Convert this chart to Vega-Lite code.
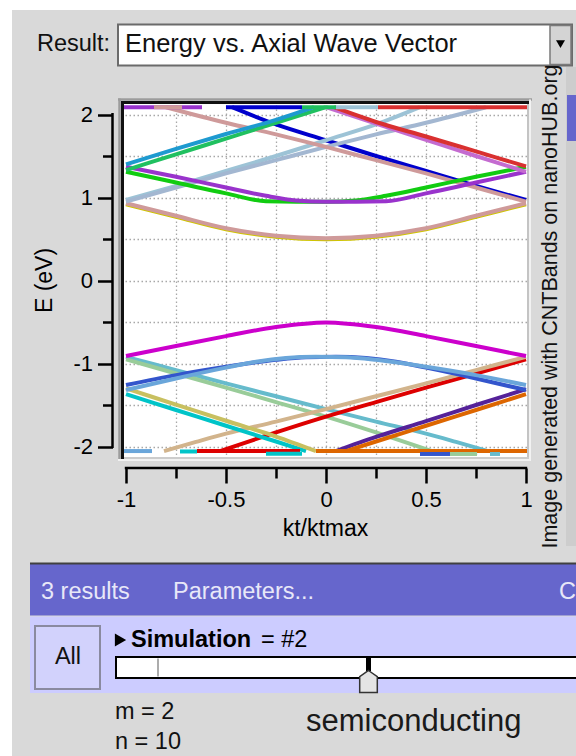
{
"$schema": "https://vega.github.io/schema/vega-lite/v6.json",
"width": 408, "height": 358,
"autosize": {"type": "none"},
"padding": {"left": 121, "top": 101, "right": 47, "bottom": 297},
"background": "#d9d9d9",
"config": {"view": {"fill": "#ffffff", "stroke": null}, "font": "Liberation Sans"},
"data": {"values": [{}]},
"datasets": {"bands": [
{"b":"b01","k":-1,"E":0.918},{"b":"b01","k":-0.75,"E":0.768},{"b":"b01","k":-0.5,"E":0.618},{"b":"b01","k":-0.25,"E":0.528},{"b":"b01","k":0,"E":0.498},{"b":"b01","k":0.25,"E":0.528},{"b":"b01","k":0.5,"E":0.618},{"b":"b01","k":0.75,"E":0.768},{"b":"b01","k":1,"E":0.918},
{"b":"b02","k":-1,"E":0.93},{"b":"b02","k":-0.75,"E":0.78},{"b":"b02","k":-0.5,"E":0.63},{"b":"b02","k":-0.25,"E":0.54},{"b":"b02","k":0,"E":0.51},{"b":"b02","k":0.25,"E":0.54},{"b":"b02","k":0.5,"E":0.63},{"b":"b02","k":0.75,"E":0.78},{"b":"b02","k":1,"E":0.93},
{"b":"b03","k":-0.47,"E":2.088},{"b":"b03","k":-0.25,"E":1.88},{"b":"b03","k":0,"E":1.69},{"b":"b03","k":0.25,"E":1.5},{"b":"b03","k":0.5,"E":1.32},{"b":"b03","k":0.75,"E":1.14},{"b":"b03","k":1,"E":0.97},
{"b":"b04","k":-1,"E":0.97},{"b":"b04","k":-0.75,"E":1.14},{"b":"b04","k":-0.5,"E":1.32},{"b":"b04","k":-0.25,"E":1.5},{"b":"b04","k":0,"E":1.69},{"b":"b04","k":0.25,"E":1.88},{"b":"b04","k":0.47,"E":2.088},
{"b":"b05","k":-1,"E":0.95},{"b":"b05","k":-0.75,"E":1.12},{"b":"b05","k":-0.5,"E":1.29},{"b":"b05","k":-0.25,"E":1.45},{"b":"b05","k":0,"E":1.61},{"b":"b05","k":0.25,"E":1.76},{"b":"b05","k":0.5,"E":1.9},{"b":"b05","k":0.8,"E":2.088},
{"b":"b06","k":-0.8,"E":2.088},{"b":"b06","k":-0.5,"E":1.9},{"b":"b06","k":-0.25,"E":1.76},{"b":"b06","k":0,"E":1.61},{"b":"b06","k":0.25,"E":1.45},{"b":"b06","k":0.5,"E":1.29},{"b":"b06","k":0.75,"E":1.12},{"b":"b06","k":1,"E":0.95},
{"b":"b07","k":-1,"E":1.31},{"b":"b07","k":-0.75,"E":1.18},{"b":"b07","k":-0.5,"E":1.05},{"b":"b07","k":-0.3,"E":0.955},{"b":"b07","k":-0.15,"E":0.95},{"b":"b07","k":0,"E":0.95},{"b":"b07","k":0.15,"E":0.965},{"b":"b07","k":0.3,"E":1.02},{"b":"b07","k":0.5,"E":1.12},{"b":"b07","k":0.75,"E":1.25},{"b":"b07","k":1,"E":1.37},
{"b":"b08","k":-1,"E":1.37},{"b":"b08","k":-0.75,"E":1.25},{"b":"b08","k":-0.5,"E":1.12},{"b":"b08","k":-0.3,"E":1.02},{"b":"b08","k":-0.15,"E":0.965},{"b":"b08","k":0,"E":0.95},{"b":"b08","k":0.15,"E":0.95},{"b":"b08","k":0.3,"E":0.955},{"b":"b08","k":0.5,"E":1.05},{"b":"b08","k":0.75,"E":1.18},{"b":"b08","k":1,"E":1.31},
{"b":"b09","k":-1,"E":1.33},{"b":"b09","k":-0.75,"E":1.52},{"b":"b09","k":-0.5,"E":1.71},{"b":"b09","k":-0.25,"E":1.9},{"b":"b09","k":0,"E":2.088},
{"b":"b10","k":-1,"E":1.4},{"b":"b10","k":-0.75,"E":1.585},{"b":"b10","k":-0.5,"E":1.765},{"b":"b10","k":-0.25,"E":1.935},{"b":"b10","k":-0.06,"E":2.088},
{"b":"b11","k":0,"E":2.088},{"b":"b11","k":0.25,"E":1.89},{"b":"b11","k":0.5,"E":1.695},{"b":"b11","k":0.75,"E":1.5},{"b":"b11","k":1,"E":1.31},
{"b":"b12","k":0.04,"E":2.088},{"b":"b12","k":0.25,"E":1.91},{"b":"b12","k":0.5,"E":1.735},{"b":"b12","k":0.75,"E":1.555},{"b":"b12","k":1,"E":1.375},
{"b":"b13","k":-1.01,"E":2.088},{"b":"b13","k":-0.62,"E":2.088},
{"b":"b14","k":-0.86,"E":2.088},{"b":"b14","k":-0.72,"E":2.088},
{"b":"b15","k":-0.5,"E":2.088},{"b":"b15","k":-0.12,"E":2.088},
{"b":"b16","k":-0.12,"E":2.088},{"b":"b16","k":0.05,"E":2.088},
{"b":"b17","k":0.05,"E":2.088},{"b":"b17","k":0.26,"E":2.088},
{"b":"b18","k":0.26,"E":2.088},{"b":"b18","k":1.005,"E":2.088},
{"b":"b19","k":-1,"E":-0.92},{"b":"b19","k":-0.75,"E":-1.08},{"b":"b19","k":-0.5,"E":-1.24},{"b":"b19","k":-0.25,"E":-1.395},{"b":"b19","k":0,"E":-1.55},{"b":"b19","k":0.25,"E":-1.7},{"b":"b19","k":0.5,"E":-1.845},{"b":"b19","k":0.65,"E":-1.945},{"b":"b19","k":0.81,"E":-2.055},
{"b":"b20","k":-1,"E":-0.95},{"b":"b20","k":-0.75,"E":-1.12},{"b":"b20","k":-0.5,"E":-1.29},{"b":"b20","k":-0.25,"E":-1.465},{"b":"b20","k":0,"E":-1.64},{"b":"b20","k":0.25,"E":-1.83},{"b":"b20","k":0.53,"E":-2.055},
{"b":"b21","k":-0.53,"E":-2.055},{"b":"b21","k":-0.25,"E":-1.83},{"b":"b21","k":0,"E":-1.64},{"b":"b21","k":0.25,"E":-1.465},{"b":"b21","k":0.5,"E":-1.29},{"b":"b21","k":0.75,"E":-1.12},{"b":"b21","k":1,"E":-0.95},
{"b":"b22","k":-0.81,"E":-2.055},{"b":"b22","k":-0.65,"E":-1.945},{"b":"b22","k":-0.5,"E":-1.845},{"b":"b22","k":-0.25,"E":-1.7},{"b":"b22","k":0,"E":-1.55},{"b":"b22","k":0.25,"E":-1.395},{"b":"b22","k":0.5,"E":-1.24},{"b":"b22","k":0.75,"E":-1.08},{"b":"b22","k":1,"E":-0.92},
{"b":"b23","k":-1,"E":-1.37},{"b":"b23","k":-0.75,"E":-1.56},{"b":"b23","k":-0.5,"E":-1.75},{"b":"b23","k":-0.25,"E":-1.94},{"b":"b23","k":-0.1,"E":-2.055},
{"b":"b24","k":-1,"E":-1.3},{"b":"b24","k":-0.75,"E":-1.495},{"b":"b24","k":-0.5,"E":-1.69},{"b":"b24","k":-0.25,"E":-1.88},{"b":"b24","k":-0.05,"E":-2.055},
{"b":"b25","k":0.05,"E":-2.055},{"b":"b25","k":0.25,"E":-1.885},{"b":"b25","k":0.5,"E":-1.695},{"b":"b25","k":0.75,"E":-1.5},{"b":"b25","k":1,"E":-1.31},
{"b":"b26","k":0.1,"E":-2.055},{"b":"b26","k":0.25,"E":-1.94},{"b":"b26","k":0.5,"E":-1.75},{"b":"b26","k":0.75,"E":-1.56},{"b":"b26","k":1,"E":-1.37},
{"b":"b27","k":-1,"E":-1.26},{"b":"b27","k":-0.75,"E":-1.14},{"b":"b27","k":-0.5,"E":-1.04},{"b":"b27","k":-0.25,"E":-0.955},{"b":"b27","k":-0.1,"E":-0.925},{"b":"b27","k":0.05,"E":-0.92},{"b":"b27","k":0.2,"E":-0.935},{"b":"b27","k":0.35,"E":-0.98},{"b":"b27","k":0.5,"E":-1.05},{"b":"b27","k":0.75,"E":-1.18},{"b":"b27","k":1,"E":-1.32},
{"b":"b28","k":-1,"E":-1.32},{"b":"b28","k":-0.75,"E":-1.18},{"b":"b28","k":-0.5,"E":-1.05},{"b":"b28","k":-0.35,"E":-0.98},{"b":"b28","k":-0.2,"E":-0.935},{"b":"b28","k":-0.05,"E":-0.92},{"b":"b28","k":0.1,"E":-0.925},{"b":"b28","k":0.25,"E":-0.955},{"b":"b28","k":0.5,"E":-1.04},{"b":"b28","k":0.75,"E":-1.14},{"b":"b28","k":1,"E":-1.26},
{"b":"b29","k":-1,"E":-0.91},{"b":"b29","k":-0.75,"E":-0.79},{"b":"b29","k":-0.5,"E":-0.67},{"b":"b29","k":-0.25,"E":-0.56},{"b":"b29","k":0,"E":-0.505},{"b":"b29","k":0.25,"E":-0.56},{"b":"b29","k":0.5,"E":-0.67},{"b":"b29","k":0.75,"E":-0.79},{"b":"b29","k":1,"E":-0.91},
{"b":"b30","k":-1.01,"E":-2.055},{"b":"b30","k":-0.87,"E":-2.055},
{"b":"b31","k":-0.73,"E":-2.06},{"b":"b31","k":-0.645,"E":-2.06},
{"b":"b32","k":-0.645,"E":-2.055},{"b":"b32","k":-0.13,"E":-2.055},
{"b":"b33","k":-0.3,"E":-2.088},{"b":"b33","k":-0.12,"E":-2.088},
{"b":"b34","k":-0.05,"E":-2.055},{"b":"b34","k":1.005,"E":-2.055},
{"b":"b35","k":0.47,"E":-2.09},{"b":"b35","k":0.62,"E":-2.09},
{"b":"b36","k":0.62,"E":-2.09},{"b":"b36","k":0.755,"E":-2.09},
{"b":"b37","k":0.82,"E":-2.09},{"b":"b37","k":0.87,"E":-2.09}
]},
"resolve": {"axis": {"x": "independent", "y": "independent"}},
"layer": [
{"mark": {"type": "rect", "fill": "#ffffff"}, "encoding": {"x": {"datum": -1.63, "axis": null}, "x2": {"datum": -1.57}, "y": {"datum": 3.3795, "axis": null}, "y2": {"datum": -5.7289}}},
{"mark": {"type": "rect", "fill": "#ffffff"}, "encoding": {"x": {"datum": -1.63, "axis": null}, "x2": {"datum": 1.26}, "y": {"datum": 3.3795, "axis": null}, "y2": {"datum": 3.259}}},
{"mark": {"type": "rect", "fill": "#ffffff", "stroke": "#6b6b6b", "strokeWidth": 2}, "encoding": {"x": {"datum": -1.04, "axis": null}, "x2": {"datum": 1.23}, "y": {"datum": 3.0843, "axis": null}, "y2": {"datum": 2.5904}}},
{"mark": {"type": "rect", "fill": "#d4d4d4", "stroke": "#7a7a7a", "strokeWidth": 1.5}, "encoding": {"x": {"datum": 1.12, "axis": null}, "x2": {"datum": 1.225}, "y": {"datum": 3.072, "axis": null}, "y2": {"datum": 2.6025}}},
{"mark": {"type": "point", "shape": "triangle-down", "filled": true, "color": "#000000", "size": 80, "opacity": 1}, "encoding": {"x": {"datum": 1.1725, "axis": null}, "y": {"datum": 2.8494, "axis": null}}},
{"mark": {"type": "text", "text": "Result:", "align": "left", "baseline": "middle", "font": "Liberation Sans", "fontSize": 23.5, "color": "#111111"}, "encoding": {"x": {"datum": -1.445, "axis": null}, "y": {"datum": 2.8494, "axis": null}}},
{"mark": {"type": "text", "text": "Energy vs. Axial Wave Vector", "align": "left", "baseline": "middle", "font": "Liberation Sans", "fontSize": 25.5, "color": "#111111"}, "encoding": {"x": {"datum": -1.005, "axis": null}, "y": {"datum": 2.8494, "axis": null}}},
{"mark": {"type": "rect", "fill": "#cdcdcd"}, "encoding": {"x": {"datum": 1.2, "axis": null}, "x2": {"datum": 1.26}, "y": {"datum": 2.5723, "axis": null}, "y2": {"datum": -3.1988}}},
{"mark": {"type": "rect", "fill": "#6666cc"}, "encoding": {"x": {"datum": 1.205, "axis": null}, "x2": {"datum": 1.26}, "y": {"datum": 2.2349, "axis": null}, "y2": {"datum": 1.6807}}},
{"mark": {"type": "text", "text": "Image generated with CNTBands on nanoHUB.org", "angle": 270, "align": "center", "baseline": "middle", "font": "Liberation Sans", "fontSize": 21.5, "color": "#111111"}, "encoding": {"x": {"datum": 1.125, "axis": null}, "y": {"datum": -0.3133, "axis": null}}},
{"data": {"name": "bands"},
 "mark": {"type": "line", "strokeWidth": 4, "interpolate": "monotone", "strokeCap": "butt"},
 "encoding": {
  "x": {"field": "k", "type": "quantitative", "scale": {"domain": [-1.025, 1.015], "nice": false, "zero": false},
        "axis": {"orient": "bottom", "values": [-0.75, -0.5, -0.25, 0, 0.25, 0.5, 0.75], "grid": true, "gridColor": "#a8a8a8", "gridDash": [1.5, 2.5], "gridWidth": 1.3, "domain": false, "ticks": false, "labels": false, "title": null}},
  "y": {"field": "E", "type": "quantitative", "scale": {"domain": [-2.1506, 2.1627], "nice": false, "zero": false},
        "axis": {"orient": "left", "values": [-2, -1.5, -1, -0.5, 0, 0.5, 1, 1.5, 2], "grid": true, "gridColor": "#a8a8a8", "gridDash": [1.5, 2.5], "gridWidth": 1.3, "domain": false, "ticks": false, "labels": false, "title": null}},
  "color": {"field": "b", "type": "nominal", "legend": null,
   "scale": {"domain": ["b01","b02","b03","b04","b05","b06","b07","b08","b09","b10","b11","b12","b13","b14","b15","b16","b17","b18","b19","b20","b21","b22","b23","b24","b25","b26","b27","b28","b29","b30","b31","b32","b33","b34","b35","b36","b37"],
    "range": ["#cfc400","#cf9a9a","#0000cc","#9dc3d6","#a3b7d1","#cf9a9a","#11cc11","#9933cc","#20c060","#1e9ad0","#c46bd0","#d93030","#9933cc","#cf9a9a","#0000cc","#20c060","#9dc3d6","#d93030","#66bbcc","#99cc99","#dd0000","#d2b48c","#00c4c8","#c8c060","#552299","#dd6600","#3355cc","#6aa6da","#cc00cc","#6aa6da","#00c4c8","#dd0000","#00c4c8","#dd6600","#3355cc","#99cc99","#66bbcc"]}}
 }},
{"mark": {"type": "rule", "color": "#9c9c9c", "strokeWidth": 2.5}, "encoding": {"y": {"datum": 2.1807, "axis": null}, "x": {"datum": -1.04, "axis": null}, "x2": {"datum": 1.03}}},
{"mark": {"type": "rule", "color": "#9c9c9c", "strokeWidth": 2.5}, "encoding": {"x": {"datum": -1.0325, "axis": null}, "y": {"datum": 2.193, "axis": null}, "y2": {"datum": -2.175}}},
{"mark": {"type": "rule", "color": "#f2f2f2", "strokeWidth": 2}, "encoding": {"x": {"datum": 1.02, "axis": null}, "y": {"datum": 2.18, "axis": null}, "y2": {"datum": -2.163}}},
{"mark": {"type": "rule", "color": "#f2f2f2", "strokeWidth": 2}, "encoding": {"y": {"datum": -2.1627, "axis": null}, "x": {"datum": -1.04, "axis": null}, "x2": {"datum": 1.025}}},
{"mark": {"type": "rule", "color": "#c4c4c4", "strokeWidth": 2}, "encoding": {"x": {"datum": 1.01, "axis": null}, "y": {"datum": 2.1446, "axis": null}, "y2": {"datum": -2.1506}}},
{"mark": {"type": "rule", "color": "#cccccc", "strokeWidth": 2}, "encoding": {"y": {"datum": -2.1386, "axis": null}, "x": {"datum": -1.01, "axis": null}, "x2": {"datum": 1.015}}},
{"mark": {"type": "rule", "color": "#111111", "strokeWidth": 3}, "encoding": {"y": {"datum": 2.1446, "axis": null}, "x": {"datum": -1.025, "axis": null}, "x2": {"datum": 1.015}}},
{"mark": {"type": "rule", "color": "#111111", "strokeWidth": 3}, "encoding": {"x": {"datum": -1.0175, "axis": null}, "y": {"datum": 2.1627, "axis": null}, "y2": {"datum": -2.1506}}},
{"mark": {"type": "rule", "color": "#000000", "strokeWidth": 2.5},
 "encoding": {
  "x": {"datum": -1.0675, "type": "quantitative", "axis": {"orient": "bottom", "offset": 9, "values": [-1, -0.5, 0, 0.5, 1], "grid": false, "domain": false, "tickSize": 15, "tickWidth": 2.5, "tickColor": "#000000", "labelFontSize": 22, "labelFont": "Liberation Sans", "labelColor": "#000000", "labelPadding": 6, "labelFlush": false, "labelOverlap": false, "labelExpr": "datum.value < 0 ? '-' + format(-datum.value, '~g') : format(datum.value, '~g')", "title": "kt/ktmax", "titleFontSize": 23, "titleFont": "Liberation Sans", "titleFontWeight": "normal", "titleColor": "#000000", "titlePadding": 7}},
  "y": {"datum": -2.017, "type": "quantitative", "axis": {"orient": "left", "offset": 8.5, "values": [-2, -1, 0, 1, 2], "grid": false, "domain": false, "tickSize": 15, "tickWidth": 2.5, "tickColor": "#000000", "labelFontSize": 22, "labelFont": "Liberation Sans", "labelColor": "#000000", "labelPadding": 5, "labelOverlap": false, "labelExpr": "datum.value < 0 ? '-' + format(-datum.value, '~g') : format(datum.value, '~g')", "title": "E (eV)", "titleFontSize": 23, "titleFont": "Liberation Sans", "titleFontWeight": "normal", "titleColor": "#000000", "titlePadding": 16}},
  "y2": {"datum": 2.017}}},
{"mark": {"type": "rule", "color": "#000000", "strokeWidth": 2.5},
 "encoding": {
  "y": {"datum": -2.259, "type": "quantitative", "axis": {"orient": "left", "offset": 8.5, "values": [-1.5, -0.5, 0.5, 1.5], "grid": false, "domain": false, "tickSize": 10, "tickWidth": 2.5, "tickColor": "#000000", "labels": false, "title": null}},
  "x": {"datum": -1.006, "type": "quantitative", "axis": {"orient": "bottom", "offset": 9, "values": [-0.75, -0.25, 0.25, 0.75], "grid": false, "domain": false, "tickSize": 10, "tickWidth": 2.5, "tickColor": "#000000", "labels": false, "title": null}},
  "x2": {"datum": 1.006}}},
{"mark": {"type": "rect", "fill": "#6666cc"}, "encoding": {"x": {"datum": -1.48, "axis": null}, "x2": {"datum": 1.27}, "y": {"datum": -3.4036, "axis": null}, "y2": {"datum": -4.0361}}},
{"mark": {"type": "rule", "color": "#404040", "strokeWidth": 2}, "encoding": {"y": {"datum": -3.41, "axis": null}, "x": {"datum": -1.48, "axis": null}, "x2": {"datum": 1.27}}},
{"mark": {"type": "text", "text": "3 results", "align": "left", "baseline": "middle", "font": "Liberation Sans", "fontSize": 23.5, "color": "#e8e8f8"}, "encoding": {"x": {"datum": -1.425, "axis": null}, "y": {"datum": -3.753, "axis": null}}},
{"mark": {"type": "text", "text": "Parameters...", "align": "left", "baseline": "middle", "font": "Liberation Sans", "fontSize": 23.5, "color": "#e8e8f8"}, "encoding": {"x": {"datum": -0.765, "axis": null}, "y": {"datum": -3.753, "axis": null}}},
{"mark": {"type": "text", "text": "C", "align": "left", "baseline": "middle", "font": "Liberation Sans", "fontSize": 23.5, "color": "#e8e8f8"}, "encoding": {"x": {"datum": 1.165, "axis": null}, "y": {"datum": -3.753, "axis": null}}},
{"mark": {"type": "rect", "fill": "#ccccff"}, "encoding": {"x": {"datum": -1.48, "axis": null}, "x2": {"datum": 1.27}, "y": {"datum": -4.0482, "axis": null}, "y2": {"datum": -4.9699}}},
{"mark": {"type": "rect", "fill": "#d2d2fc", "stroke": "#8a8aa0", "strokeWidth": 2}, "encoding": {"x": {"datum": -1.455, "axis": null}, "x2": {"datum": -1.13}, "y": {"datum": -4.1627, "axis": null}, "y2": {"datum": -4.9217}}},
{"mark": {"type": "text", "text": "All", "align": "center", "baseline": "middle", "font": "Liberation Sans", "fontSize": 23.5, "color": "#111111"}, "encoding": {"x": {"datum": -1.29, "axis": null}, "y": {"datum": -4.5361, "axis": null}}},
{"mark": {"type": "point", "shape": "triangle-right", "filled": true, "color": "#000000", "size": 170, "opacity": 1}, "encoding": {"x": {"datum": -1.0275, "axis": null}, "y": {"datum": -4.3313, "axis": null}}},
{"mark": {"type": "text", "text": "Simulation", "align": "left", "baseline": "middle", "font": "Liberation Sans", "fontWeight": "bold", "fontSize": 23.5, "color": "#000000"}, "encoding": {"x": {"datum": -0.975, "axis": null}, "y": {"datum": -4.3313, "axis": null}}},
{"mark": {"type": "text", "text": "= #2", "align": "left", "baseline": "middle", "font": "Liberation Sans", "fontSize": 23.5, "color": "#000000"}, "encoding": {"x": {"datum": -0.325, "axis": null}, "y": {"datum": -4.3313, "axis": null}}},
{"mark": {"type": "rect", "fill": "#ffffff", "stroke": "#000000", "strokeWidth": 2}, "encoding": {"x": {"datum": -1.05, "axis": null}, "x2": {"datum": 1.27}, "y": {"datum": -4.5361, "axis": null}, "y2": {"datum": -4.7892}}},
{"mark": {"type": "rule", "color": "#909090", "strokeWidth": 1.5}, "encoding": {"x": {"datum": -0.84, "axis": null}, "y": {"datum": -4.5542, "axis": null}, "y2": {"datum": -4.7711}}},
{"mark": {"type": "rule", "color": "#000000", "strokeWidth": 5}, "encoding": {"x": {"datum": 0.2125, "axis": null}, "y": {"datum": -4.5361, "axis": null}, "y2": {"datum": -4.7048}}},
{"mark": {"type": "point", "shape": "M0,-1L0.8,-0.45L0.8,1L-0.8,1L-0.8,-0.45Z", "filled": true, "fill": "#e4e4e4", "stroke": "#333333", "strokeWidth": 1.5, "size": 484, "opacity": 1}, "encoding": {"x": {"datum": 0.2125, "axis": null}, "y": {"datum": -4.8313, "axis": null}}},
{"mark": {"type": "text", "text": "m = 2", "align": "left", "baseline": "middle", "font": "Liberation Sans", "fontSize": 23.5, "color": "#111111"}, "encoding": {"x": {"datum": -1.055, "axis": null}, "y": {"datum": -5.1988, "axis": null}}},
{"mark": {"type": "text", "text": "n = 10", "align": "left", "baseline": "middle", "font": "Liberation Sans", "fontSize": 23.5, "color": "#111111"}, "encoding": {"x": {"datum": -1.055, "axis": null}, "y": {"datum": -5.5602, "axis": null}}},
{"mark": {"type": "text", "text": "semiconducting", "align": "left", "baseline": "middle", "font": "Liberation Sans", "fontSize": 31, "color": "#1a1a1a"}, "encoding": {"x": {"datum": -0.1, "axis": null}, "y": {"datum": -5.3193, "axis": null}}}
]
}
